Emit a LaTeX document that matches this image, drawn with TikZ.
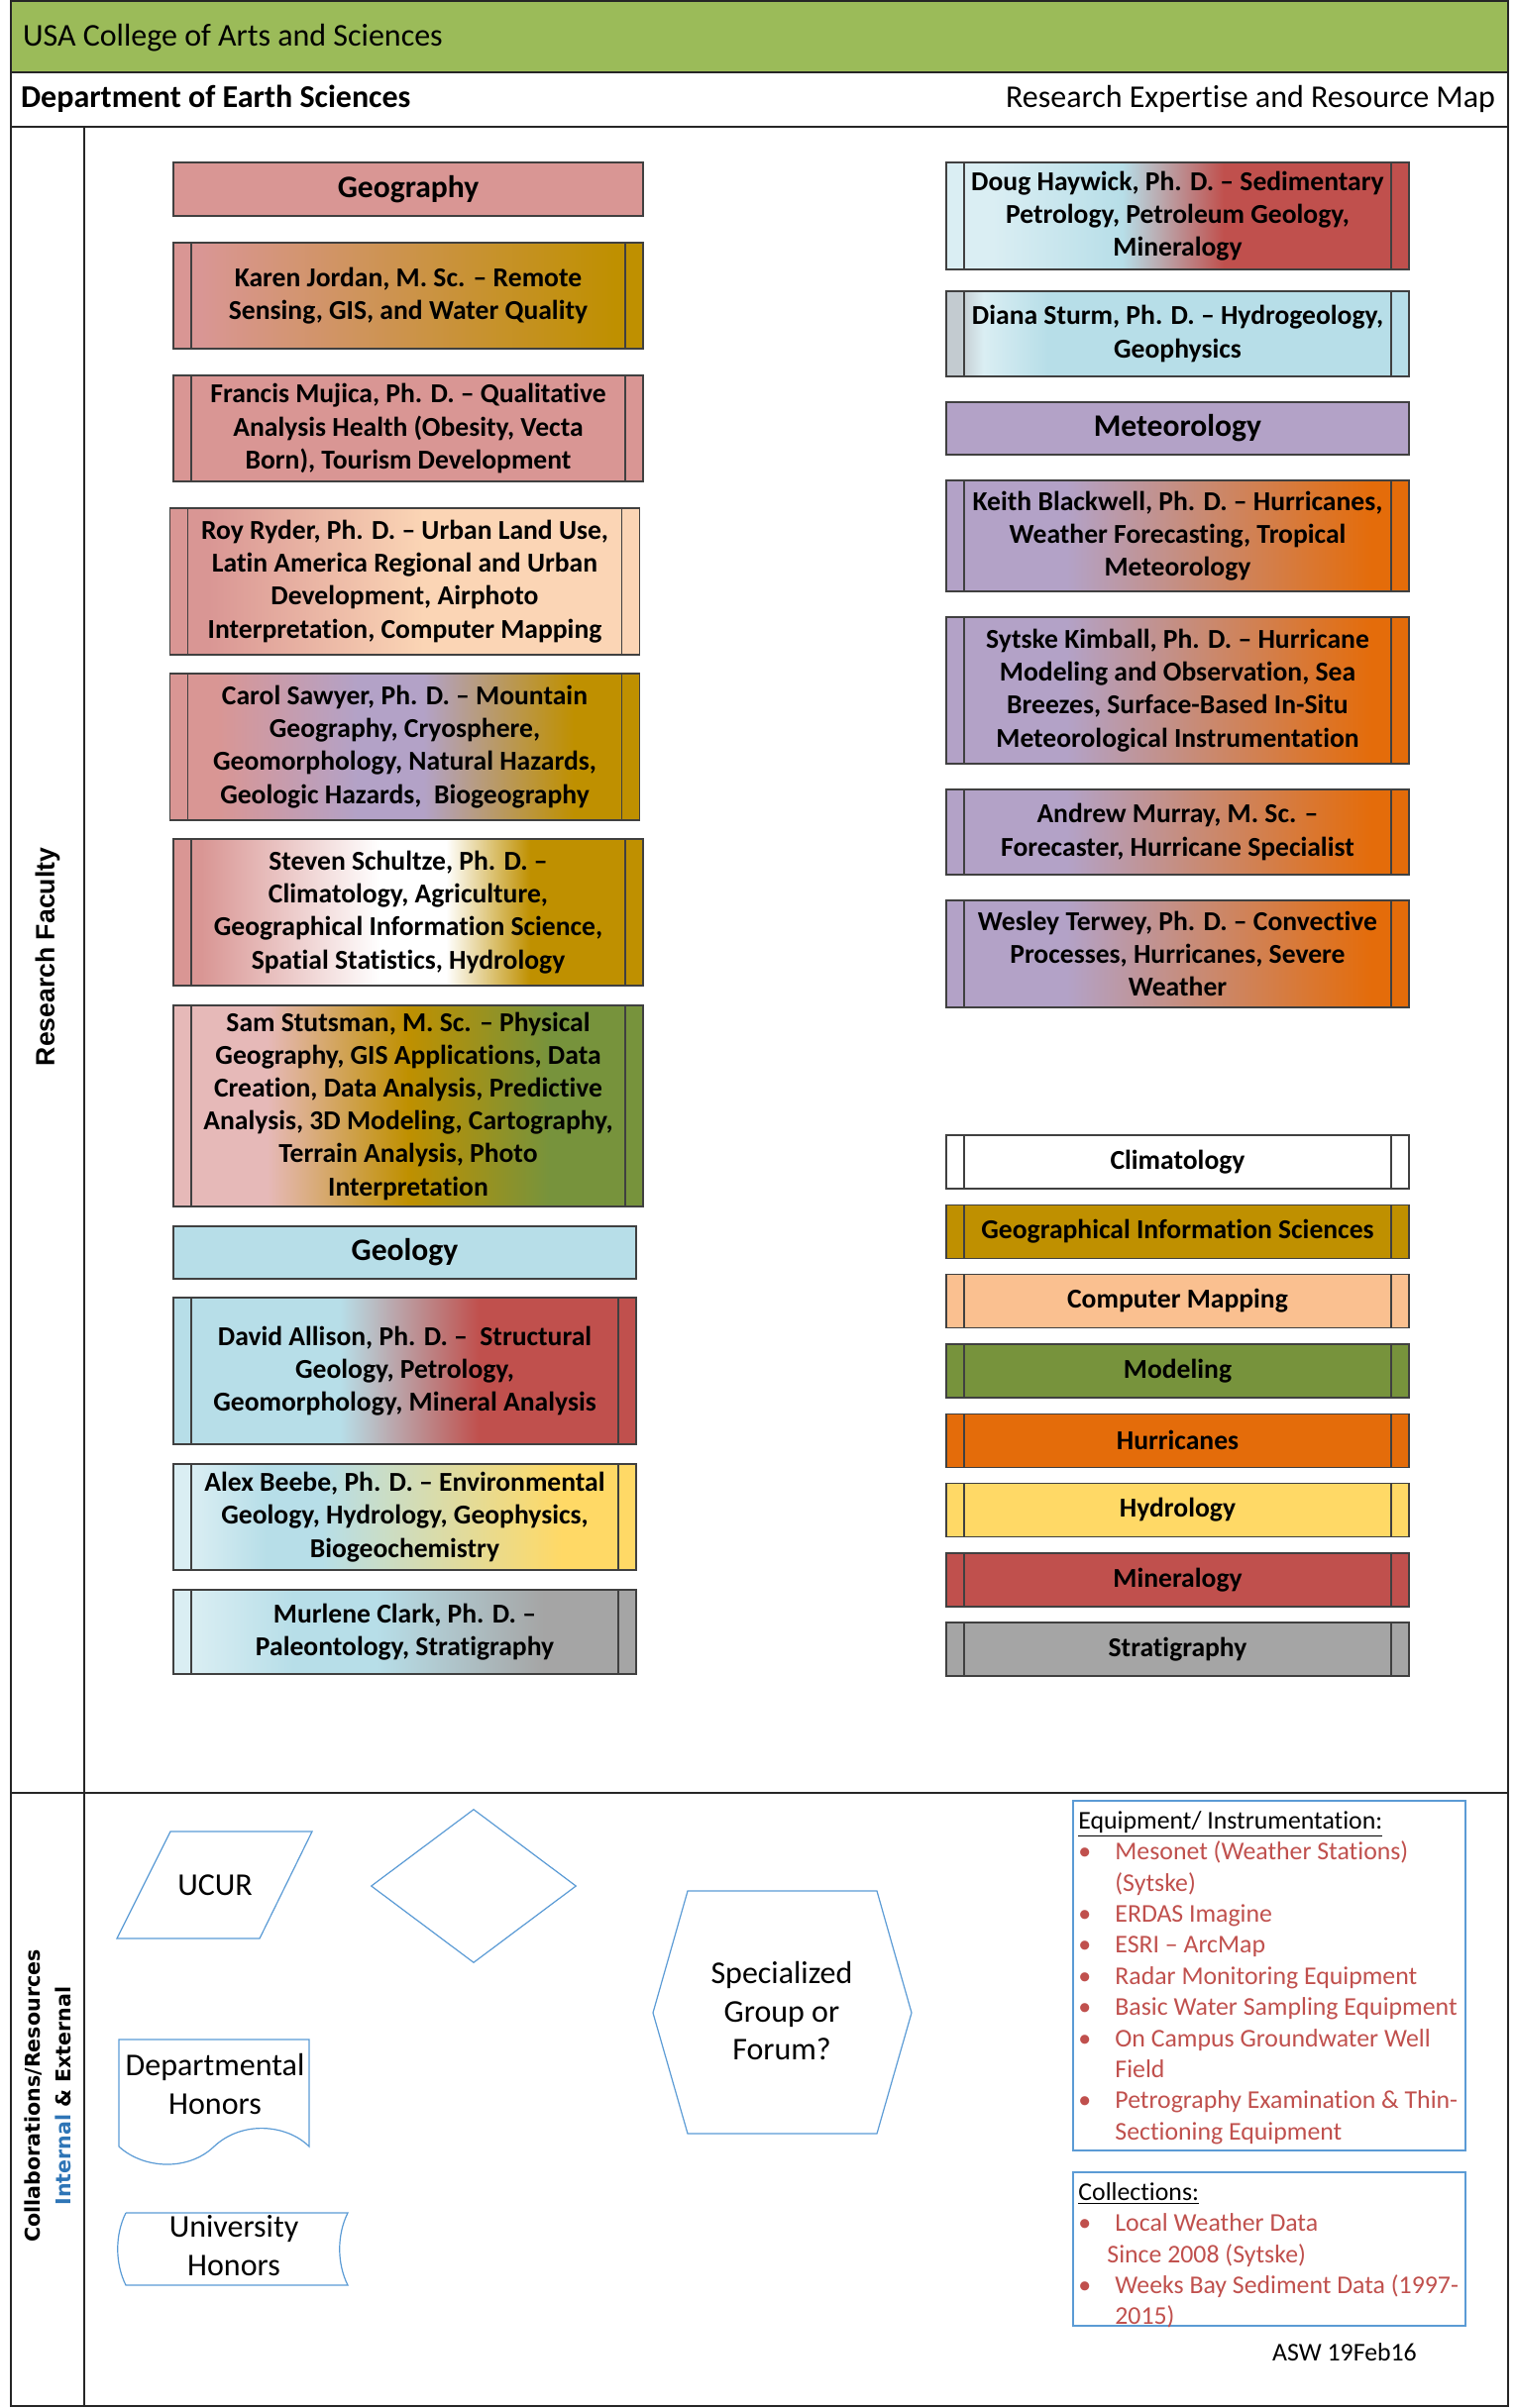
\documentclass[tikz,border=0pt]{standalone}
\usepackage{fontspec}
\setmainfont{Carlito}[Ligatures={TeX,NoCommon}]
\newfontfamily\arialfont{Liberation Sans}
\newfontfamily\verdfont{DejaVu Sans}
\usetikzlibrary{positioning, shapes.geometric}

\definecolor{BandGreen}{HTML}{9BBB59}
\definecolor{FrameLine}{HTML}{262626}
\definecolor{BoxLine}{HTML}{404040}
\definecolor{GeoPink}{HTML}{D99694}
\definecolor{PinkLt}{HTML}{E6B9B8}
\definecolor{GisGold}{HTML}{BF9000}
\definecolor{PeachLt}{HTML}{FBD5B5}
\definecolor{MapPeach}{HTML}{FAC090}
\definecolor{ModGreen}{HTML}{77933C}
\definecolor{HurOrange}{HTML}{E46C0A}
\definecolor{HydYellow}{HTML}{FFD966}
\definecolor{MinRed}{HTML}{C0504D}
\definecolor{StratGray}{HTML}{A5A5A5}
\definecolor{GeoBlue}{HTML}{B7DEE8}
\definecolor{BlueLt}{HTML}{DAEEF3}
\definecolor{BlueGray}{HTML}{C3CBD0}
\definecolor{MetLav}{HTML}{B3A2C7}
\definecolor{ShapeBlue}{HTML}{5B9BD5}
\definecolor{IntBlue}{HTML}{2E75B6}

% left edge = 25bp, right edge = 75bp
\pgfdeclarehorizontalshading{karenshade}{100bp}{color(0bp)=(GeoPink); color(28bp)=(GeoPink); color(72bp)=(GisGold); color(100bp)=(GisGold)}
\pgfdeclarehorizontalshading{royshade}{100bp}{color(0bp)=(GeoPink); color(29bp)=(GeoPink); color(52bp)=(PeachLt); color(100bp)=(PeachLt)}
\pgfdeclarehorizontalshading{carolshade}{100bp}{color(0bp)=(GeoPink); color(30bp)=(GeoPink); color(45bp)=(MetLav); color(52bp)=(MetLav); color(68bp)=(GisGold); color(100bp)=(GisGold)}
\pgfdeclarehorizontalshading{stevenshade}{100bp}{color(0bp)=(GeoPink); color(28bp)=(GeoPink); color(47bp)=(white); color(54bp)=(white); color(63bp)=(GisGold); color(100bp)=(GisGold)}
\pgfdeclarehorizontalshading{samshade}{100bp}{color(0bp)=(PinkLt); color(35bp)=(PinkLt); color(50bp)=(GisGold); color(65bp)=(ModGreen); color(100bp)=(ModGreen)}
\pgfdeclarehorizontalshading{davidshade}{100bp}{color(0bp)=(GeoBlue); color(43bp)=(GeoBlue); color(58bp)=(MinRed); color(100bp)=(MinRed)}
\pgfdeclarehorizontalshading{alexshade}{100bp}{color(0bp)=(BlueLt); color(27bp)=(BlueLt); color(35bp)=(GeoBlue); color(41bp)=(GeoBlue); color(67bp)=(HydYellow); color(100bp)=(HydYellow)}
\pgfdeclarehorizontalshading{murleneshade}{100bp}{color(0bp)=(BlueLt); color(27bp)=(BlueLt); color(38bp)=(GeoBlue); color(47bp)=(GeoBlue); color(65bp)=(StratGray); color(100bp)=(StratGray)}
\pgfdeclarehorizontalshading{dougshade}{100bp}{color(0bp)=(BlueLt); color(30bp)=(BlueLt); color(44bp)=(GeoBlue); color(55bp)=(MinRed); color(100bp)=(MinRed)}
\pgfdeclarehorizontalshading{dianashade}{100bp}{color(0bp)=(BlueGray); color(26.5bp)=(BlueGray); color(29bp)=(BlueLt); color(36bp)=(GeoBlue); color(100bp)=(GeoBlue)}
\pgfdeclarehorizontalshading{metshade}{100bp}{color(0bp)=(MetLav); color(38bp)=(MetLav); color(71bp)=(HurOrange); color(100bp)=(HurOrange)}

\newcommand{\eqitem}[1]{{\color{MinRed}\makebox[18.5pt][l]{\textbullet}#1}}
\newcommand{\eqcont}[1]{{\color{MinRed}\hspace*{18.5pt}#1}}

\tikzset{
  fac/.style={draw=BoxLine, line width=0.7pt, outer sep=0pt, align=center, inner xsep=2pt, inner ysep=1pt, minimum width=237pt, font=\bfseries\fontsize{13.8}{16.6}\selectfont},
  bars/.style={path picture={
    \draw[BoxLine, line width=0.7pt] ([xshift=9pt]path picture bounding box.north west) -- ([xshift=9pt]path picture bounding box.south west);
    \draw[BoxLine, line width=0.7pt] ([xshift=-9pt]path picture bounding box.north east) -- ([xshift=-9pt]path picture bounding box.south east);}},
  head/.style={fac, minimum height=27pt, font=\bfseries\fontsize{15.8}{18}\selectfont}
}

\begin{document}
\begin{tikzpicture}[x=0.5pt, y=-0.5pt,
  narrow/.style={minimum width=233.5pt},
  legendbox/.style={fac, bars, narrow, minimum height=27pt},
  frameline/.style={draw=FrameLine, line width=1pt},
  shapeline/.style={draw=ShapeBlue, line width=0.6pt},
  shapetext/.style={align=center, font=\fontsize{16}{19.3}\selectfont},
  infobox/.style={draw=ShapeBlue, line width=0.7pt, outer sep=0pt, minimum width=198pt, inner sep=0pt},
  listtext/.style={align=left, inner xsep=2.5pt, inner ysep=5pt, font=\fontsize{12.9}{15.7}\selectfont}
]
\useasboundingbox (0,0) rectangle (1530,2431);

% frame
\fill[BandGreen] (11,1) rectangle (1522,73);
\draw[frameline] (11,1) rectangle (1522,2429);
\draw[frameline] (11,73) -- (1522,73);
\draw[frameline] (11,128) -- (1522,128);
\draw[frameline] (11,1810) -- (1522,1810);
\draw[frameline] (85,128) -- (85,2429);

\node[anchor=west, font=\fontsize{16}{19}\selectfont] (college) at (16,38) {USA College of Arts and Sciences};
\node[anchor=west, font=\bfseries\fontsize{16}{19}\selectfont] (dept) at (14,100) {Department of Earth Sciences};
\node[anchor=east, font=\fontsize{16}{19}\selectfont] (mapname) at (1516,100) {Research Expertise and Resource Map};

\node[rotate=90, font=\arialfont\bfseries\fontsize{13.3}{15}\selectfont] (faculty) at (48,966) {Research Faculty};
\node[rotate=90, align=center, font=\verdfont\bfseries\fontsize{10.3}{15.5}\selectfont] (collab) at (48,2116)
  {Collaborations/Resources\\\textcolor{IntBlue}{Internal} \& External};

% geography / geology column
\node[head, fill=GeoPink] (geog) at (412,191) {Geography};
\node[fac, bars, shading=karenshade, minimum height=53.5pt, below=13.5pt of geog] (jordan)
  {Karen Jordan, M. Sc. -- Remote\\Sensing, GIS, and Water Quality};
\node[fac, bars, fill=GeoPink, minimum height=53.5pt, below=13.5pt of jordan] (mujica)
  {Francis Mujica, Ph. D. -- Qualitative\\Analysis Health (Obesity, Vecta\\Born), Tourism Development};
\node[fac, bars, shading=royshade, minimum height=74pt, below=13.5pt of mujica, xshift=-1.75pt] (ryder)
  {Roy Ryder, Ph. D. -- Urban Land Use,\\Latin America Regional and Urban\\Development, Airphoto\\Interpretation, Computer Mapping};
\node[fac, bars, shading=carolshade, minimum height=74pt, below=9.5pt of ryder] (sawyer)
  {Carol Sawyer, Ph. D. -- Mountain\\Geography, Cryosphere,\\Geomorphology, Natural Hazards,\\Geologic Hazards,\ \ Biogeography};
\node[fac, bars, shading=stevenshade, minimum height=74pt, below=9.5pt of sawyer, xshift=1.75pt] (schultze)
  {Steven Schultze, Ph. D. --\\Climatology, Agriculture,\\Geographical Information Science,\\Spatial Statistics, Hydrology};
\node[fac, bars, shading=samshade, minimum height=101.5pt, below=10pt of schultze] (stutsman)
  {Sam Stutsman, M. Sc. -- Physical\\Geography, GIS Applications, Data\\Creation, Data Analysis, Predictive\\Analysis, 3D Modeling, Cartography,\\Terrain Analysis, Photo\\Interpretation};
\node[head, narrow, fill=GeoBlue, minimum height=26.5pt, below=10pt of stutsman, xshift=-1.75pt] (geol) {Geology};
\node[fac, bars, narrow, shading=davidshade, minimum height=74pt, below=9.5pt of geol] (allison)
  {David Allison, Ph. D. --\ \ Structural\\Geology, Petrology,\\Geomorphology, Mineral Analysis};
\node[fac, bars, narrow, shading=alexshade, minimum height=53.5pt, below=10pt of allison] (beebe)
  {Alex Beebe, Ph. D. -- Environmental\\Geology, Hydrology, Geophysics,\\Biogeochemistry};
\node[fac, bars, narrow, shading=murleneshade, minimum height=42.5pt, below=10pt of beebe] (clark)
  {Murlene Clark, Ph. D. --\\Paleontology, Stratigraphy};

% geology / meteorology column
\node[fac, bars, narrow, shading=dougshade, minimum height=54pt] (haywick) at (1188.5,218)
  {Doug Haywick, Ph. D. -- Sedimentary\\Petrology, Petroleum Geology,\\Mineralogy};
\node[fac, bars, narrow, shading=dianashade, minimum height=43pt, below=11pt of haywick] (sturm)
  {Diana Sturm, Ph. D. -- Hydrogeology,\\Geophysics};
\node[head, narrow, fill=MetLav, minimum height=26.5pt, below=13pt of sturm] (meteo) {Meteorology};
\node[fac, bars, narrow, shading=metshade, minimum height=56pt, below=13pt of meteo] (blackwell)
  {Keith Blackwell, Ph. D. -- Hurricanes,\\Weather Forecasting, Tropical\\Meteorology};
\node[fac, bars, narrow, shading=metshade, minimum height=74pt, below=13pt of blackwell] (kimball)
  {Sytske Kimball, Ph. D. -- Hurricane\\Modeling and Observation, Sea\\Breezes, Surface-Based In-Situ\\Meteorological Instrumentation};
\node[fac, bars, narrow, shading=metshade, minimum height=43pt, below=13pt of kimball] (murray)
  {Andrew Murray, M. Sc. --\\Forecaster, Hurricane Specialist};
\node[fac, bars, narrow, shading=metshade, minimum height=54pt, below=13pt of murray] (terwey)
  {Wesley Terwey, Ph. D. -- Convective\\Processes, Hurricanes, Severe\\Weather};

% legend
\node[legendbox, fill=white, below=64.5pt of terwey] (climkey) {Climatology};
\node[legendbox, fill=GisGold, below=8.15pt of climkey] (giskey) {Geographical Information Sciences};
\node[legendbox, fill=MapPeach, below=8.15pt of giskey] (mapkey) {Computer Mapping};
\node[legendbox, fill=ModGreen, below=8.15pt of mapkey] (modkey) {Modeling};
\node[legendbox, fill=HurOrange, below=8.15pt of modkey] (hurkey) {Hurricanes};
\node[legendbox, fill=HydYellow, below=8.15pt of hurkey] (hydkey) {Hydrology};
\node[legendbox, fill=MinRed, below=8.15pt of hydkey] (minkey) {Mineralogy};
\node[legendbox, fill=StratGray, below=8.15pt of minkey] (strkey) {Stratigraphy};

% collaborations
\draw[shapeline] (172,1849) -- (315,1849) -- (262,1957) -- (118,1957) -- cycle;
\node[shapetext] (ucur) at (217,1903) {UCUR};
\node[shapeline, diamond, minimum width=103.5pt, minimum height=77.5pt, inner sep=0pt] (choice) at (478,1904) {};
\draw[shapeline] (694,1909) -- (885,1909) -- (920,2032) -- (885,2154) -- (694,2154) -- (659,2032) -- cycle;
\node[shapetext] (forum) at (789,2030) {Specialized\\Group or\\Forum?};
\draw[shapeline] (120,2167) -- (120,2059) -- (312,2059) -- (312,2167)
  .. controls (290,2145) and (245,2140) .. (216,2167)
  .. controls (190,2192) and (145,2190) .. (120,2167);
\node[shapetext] (depthon) at (217,2104) {Departmental\\Honors};
\draw[shapeline] (127,2234) -- (351,2234) .. controls (340,2256) and (340,2285) .. (351,2307)
  -- (127,2307) .. controls (116,2285) and (116,2256) .. (127,2234);
\node[shapetext] (univhon) at (236,2267) {University\\Honors};

% resources
\node[infobox, minimum height=176.5pt, anchor=north west] (equip) at (1083,1818) {};
\node[listtext, anchor=north west] (equiptxt) at (equip.north west)
  {\underline{Equipment/ Instrumentation:}\\
   \eqitem{Mesonet (Weather Stations)}\\
   \eqcont{(Sytske)}\\
   \eqitem{ERDAS Imagine}\\
   \eqitem{ESRI -- ArcMap}\\
   \eqitem{Radar Monitoring Equipment}\\
   \eqitem{Basic Water Sampling Equipment}\\
   \eqitem{On Campus Groundwater Well}\\
   \eqcont{Field}\\
   \eqitem{Petrography Examination \& Thin-}\\
   \eqcont{Sectioning Equipment}};
\node[infobox, minimum height=77.5pt, below=11pt of equip] (coll) {};
\node[listtext, anchor=north west] (colltxt) at (coll.north west)
  {\underline{Collections:}\\
   \eqitem{Local Weather Data}\\
   {\color{MinRed}\hspace*{14.5pt}Since 2008 (Sytske)}\\
   \eqitem{Weeks Bay Sediment Data (1997-}\\
   \eqcont{2015)}};
\node[font=\fontsize{12.9}{15.7}\selectfont] (sig) at (1357,2375) {ASW 19Feb16};
\end{tikzpicture}
\end{document}
